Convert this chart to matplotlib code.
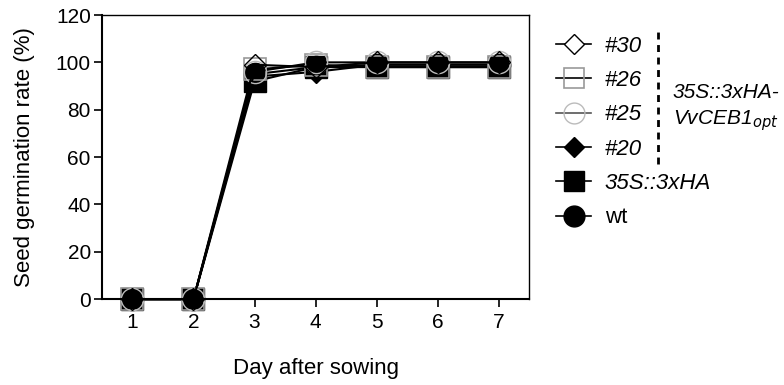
import numpy as np
import matplotlib.pyplot as plt
from matplotlib.lines import Line2D

plt.rcParams['font.family'] = ['Liberation Sans', 'DejaVu Sans']

days = [1, 2, 3, 4, 5, 6, 7]
wt = [0, 0, 95, 98, 99, 99, 99]
ha = [0, 0, 92, 98, 98, 98, 98]
l20 = [0, 0, 94, 96, 99, 99, 99]
l25 = [0, 0, 96, 100, 100, 100, 100]
l26 = [0, 0, 97, 99, 98, 98, 98]
l30 = [0, 0, 99, 98, 100, 100, 100]

fig = plt.figure(figsize=(7.84, 3.85), dpi=100)
ax = fig.add_axes([0.130, 0.223, 0.545, 0.738])

ms = 16
h_ha, = ax.plot(days, ha, '-', color='black', lw=1.5, marker='s', ms=ms, mfc='black', mec='black')
h20, = ax.plot(days, l20, '-', color='black', lw=1.5, marker='D', ms=11, mfc='black', mec='black')
hwt, = ax.plot(days, wt, '-', color='black', lw=1.5, marker='o', ms=ms, mfc='black', mec='black')
h26, = ax.plot(days, l26, '-', color='black', lw=1.5, marker='s', ms=ms, mfc='none', mec='#999999', mew=1.2)
h25, = ax.plot(days, l25, '-', color='black', lw=1.5, marker='o', ms=ms, mfc='none', mec='#bbbbbb', mew=1.0)
h30, = ax.plot(days, l30, '-', color='black', lw=1.5, marker='D', ms=11, mfc='none', mec='black', mew=1.0)

ax.set_xlim(0.5, 7.5)
ax.set_ylim(0, 120)
ax.set_xticks(days)
ax.set_yticks(np.arange(0, 121, 20))
ax.tick_params(direction='out', length=6, width=1.2, labelsize=15, pad=2)
ax.tick_params(axis='x', pad=4)
for s in ['left', 'bottom']:
    ax.spines[s].set_linewidth(1.5)
for s in ['top', 'right']:
    ax.spines[s].set_linewidth(1.0)
for m in [h_ha, h20, hwt, h26, h25, h30]:
    m.set_clip_on(False)

ax.set_ylabel('Seed germination rate (%)', fontsize=16, labelpad=15)
ax.set_xlabel('Day after sowing', fontsize=16, labelpad=19)

leg_handles = [
    Line2D([], [], color='black', lw=1.2, marker='D', ms=10, mfc='white', mec='black', mew=1.0),
    Line2D([], [], color='black', lw=1.2, marker='s', ms=15, mfc='none', mec='#999999', mew=1.2),
    Line2D([], [], color='#555555', lw=1.2, marker='o', ms=15, mfc='none', mec='#bbbbbb', mew=1.0),
    Line2D([], [], color='black', lw=1.2, marker='D', ms=10, mfc='black', mec='black'),
    Line2D([], [], color='black', lw=1.2, marker='s', ms=15, mfc='black', mec='black'),
    Line2D([], [], color='black', lw=1.2, marker='o', ms=15, mfc='black', mec='black'),
]
leg_labels = ['#30', '#26', '#25', '#20', '35S::3xHA', 'wt']
leg = fig.legend(leg_handles, leg_labels, loc='upper left', bbox_to_anchor=(0.709, 0.907),
                 frameon=False, fontsize=16, handlelength=1.6, handletextpad=0.6,
                 labelspacing=0.6, borderaxespad=0, borderpad=0)
for t in leg.get_texts()[:5]:
    t.set_style('italic')

fig.add_artist(Line2D([0.839, 0.839], [0.575, 0.93], color='black', lw=2, ls=(0, (2.5, 2)),
                      transform=fig.transFigure))
fig.text(0.926, 0.72, '35S::3xHA-\nVvCEB1$_{opt}$', ha='center', va='center', fontsize=15,
         style='italic', linespacing=1.4)

fig.savefig('out.png', dpi=100)
